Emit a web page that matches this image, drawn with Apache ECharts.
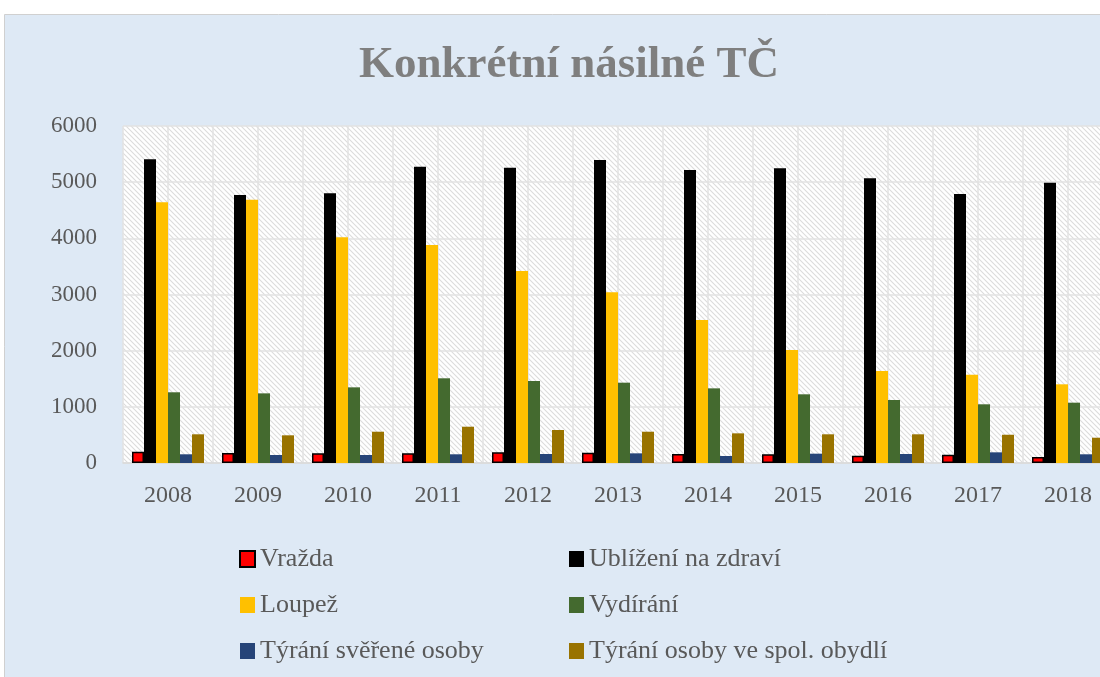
<!DOCTYPE html>
<html>
<head>
<meta charset="utf-8">
<script src="https://cdn.jsdelivr.net/npm/echarts@6/dist/echarts.min.js"></script>
<style>
  html, body { margin: 0; padding: 0; background: #ffffff; }
  #chart { width: 1100px; height: 677px; }
</style>
</head>
<body>
<div id="chart"></div>
<script>
// data
const years = ['2008', '2009', '2010', '2011', '2012', '2013', '2014', '2015', '2016', '2017', '2018']
const vrazda = [200, 178, 172, 172, 190, 183, 160, 155, 130, 148, 107]
const ublizeni = [5410, 4771, 4801, 5275, 5257, 5394, 5216, 5246, 5068, 4789, 4990]
const loupez = [4641, 4688, 4018, 3881, 3418, 3039, 2546, 2012, 1638, 1572, 1401]
const vydirani = [1259, 1240, 1347, 1508, 1460, 1430, 1329, 1223, 1122, 1045, 1074]
const tyraniSverene = [155, 142, 142, 155, 160, 172, 125, 166, 160, 190, 155]
const tyraniObydli = [511, 493, 557, 646, 588, 557, 528, 511, 511, 503, 450]

const seriesNames = ['Vražda', 'Ublížení na zdraví', 'Loupež', 'Vydírání', 'Týrání svěřené osoby', 'Týrání osoby ve spol. obydlí']
const seriesValues = [vrazda, ublizeni, loupez, vydirani, tyraniSverene, tyraniObydli]
const colors = ['#ff0000', '#000000', '#ffc000', '#446a2f', '#264478', '#997300']

// half-category ticks, only used for the vertical grid lines
const halfTicks = years.flatMap(y => [y + 'a', y + 'b'])

const font = '"Liberation Serif", serif'
const textColor = '#595959'

// diagonal hatch for the plot area
const makeHatch = () => {
  const c = document.createElement('canvas')
  c.width = 5
  c.height = 5
  const ctx = c.getContext('2d')
  ctx.fillStyle = '#ffffff'
  ctx.fillRect(0, 0, 5, 5)
  ctx.strokeStyle = '#dcdcdc'
  ctx.lineWidth = 1.1
  ctx.beginPath()
  ctx.moveTo(-1, -1); ctx.lineTo(6, 6)
  ctx.moveTo(-4, 1); ctx.lineTo(4, 9)
  ctx.moveTo(1, -4); ctx.lineTo(9, 4)
  ctx.stroke()
  return c
}

const chart = echarts.init(document.getElementById('chart'))

const legendStyle = {
  orient: 'vertical',
  top: 541,
  itemWidth: 15,
  itemHeight: 16,
  itemGap: 20,
  icon: 'rect',
  textStyle: { fontFamily: font, fontSize: 26, color: textColor }
}

const option = {
  animation: false,
  graphic: [
    {
      type: 'rect',
      z: -10,
      shape: { x: 4.5, y: 14.5, width: 1200, height: 700 },
      style: { fill: '#dee9f5', stroke: '#d0d0d0', lineWidth: 1 }
    }
  ],
  title: {
    text: 'Konkrétní násilné TČ',
    left: 564,
    top: 38,
    textAlign: 'center',
    textStyle: {
      fontFamily: font,
      fontSize: 45,
      fontWeight: 'bold',
      color: '#7f7f7f'
    }
  },
  legend: [
    Object.assign({}, legendStyle, {
      left: 234,
      data: [seriesNames[0], seriesNames[2], seriesNames[4]]
    }),
    Object.assign({}, legendStyle, {
      left: 564,
      data: [seriesNames[1], seriesNames[3], seriesNames[5]]
    })
  ],
  grid: {
    left: 123,
    top: 126,
    width: 990,
    height: 337,
    outerBoundsMode: 'none',
    containLabel: false,
    show: true,
    borderWidth: 0,
    backgroundColor: { image: makeHatch(), repeat: 'repeat' }
  },
  xAxis: [
    {
      type: 'category',
      data: years,
      axisLine: { lineStyle: { color: '#d9d9d9', width: 1.5 } },
      axisTick: { show: false },
      splitLine: { show: false },
      axisLabel: { fontFamily: font, fontSize: 24, color: textColor, margin: 21 }
    },
    {
      type: 'category',
      data: halfTicks,
      position: 'bottom',
      axisLine: { show: false },
      axisTick: { show: false },
      axisLabel: { show: false },
      splitLine: { show: true, lineStyle: { color: '#e2e2e2', width: 1.5 } }
    }
  ],
  yAxis: {
    type: 'value',
    min: 0,
    max: 6000,
    interval: 1000,
    axisLine: { show: false },
    axisTick: { show: false },
    splitLine: { lineStyle: { color: '#e2e2e2', width: 1.5 } },
    axisLabel: {
      fontFamily: font,
      fontSize: 23,
      color: textColor,
      margin: 26,
      formatter: v => String(v)
    }
  },
  series: seriesNames.map((name, i) => ({
    name,
    type: 'bar',
    xAxisIndex: 0,
    data: seriesValues[i],
    barGap: '0%',
    barCategoryGap: '20%',
    itemStyle: {
      color: colors[i],
      borderColor: i === 0 ? '#000000' : colors[i],
      borderWidth: i === 0 ? 1.5 : 0
    }
  }))
}

chart.setOption(option)
</script>
</body>
</html>
